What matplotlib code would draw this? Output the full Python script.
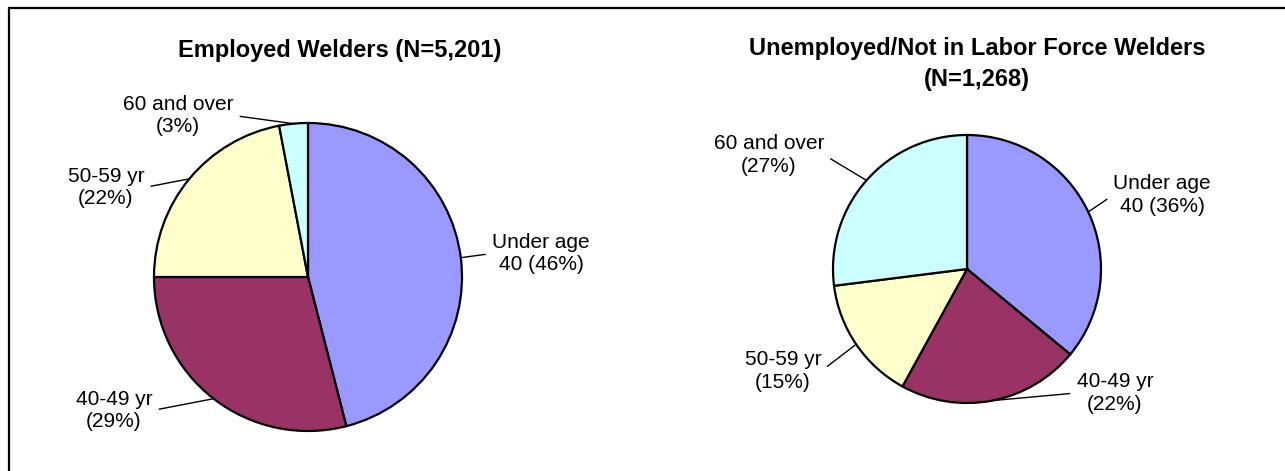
import matplotlib
matplotlib.use('Agg')
import matplotlib.pyplot as plt
import numpy as np
from matplotlib.patches import Rectangle

plt.rcParams['font.family'] = ['Liberation Sans', 'DejaVu Sans']

# data
groups = ['Under age\n40', '40-49 yr', '50-59 yr', '60 and over']
employed = [46, 29, 22, 3]
unemployed = [36, 22, 15, 27]
colors = ['#9999FF', '#993366', '#FFFFCC', '#CCFFFF']
titles = ['Employed Welders (N=5,201)',
          'Unemployed/Not in Labor Force Welders\n(N=1,268)']

W, H = 1285, 471

def pie_panel(fig, box, values, text_pos, sides):
    """box = (x0, y0, size) in pixels from the top-left corner"""
    x0, y0, size = box
    ax = fig.add_axes([x0 / W, (H - y0 - size) / H, size / W, size / H])
    wedges, _ = ax.pie(values, colors=colors, startangle=90, counterclock=False,
                       wedgeprops=dict(edgecolor='black', linewidth=1.6))
    ax.set_xlim(-1, 1)
    ax.set_ylim(-1, 1)
    ax.set_aspect('equal')

    for w, name, v, pos, side in zip(wedges, groups, values, text_pos, sides):
        ang = np.deg2rad((w.theta1 + w.theta2) / 2)
        if '\n' in name:
            label = name + ' (%d%%)' % v
        else:
            label = name + '\n(%d%%)' % v
        ax.annotate(label, xy=(np.cos(ang), np.sin(ang)), xytext=pos,
                    ha='center', va='center', fontsize=15, linespacing=1.25,
                    annotation_clip=False,
                    arrowprops=dict(arrowstyle='-', color='black', lw=1.0,
                                    relpos=(side, 0.5), shrinkA=3, shrinkB=0))
    return ax

fig = plt.figure(figsize=(W / 100, H / 100), dpi=100)

# outer frame (only top and left edges visible)
fig.patches.append(Rectangle((9 / W, -0.05), 1.2, (H - 7.5) / H + 0.05,
                             transform=fig.transFigure, fill=False,
                             edgecolor='black', linewidth=1.6))

pie_panel(fig, (154, 123, 308), employed,
          [(1.513, 0.153), (-1.26, -0.867), (-1.312, 0.581), (-0.844, 1.049)],
          [0, 1, 1, 1])
pie_panel(fig, (833, 135, 268), unemployed,
          [(1.455, 0.552), (1.104, -0.925), (-1.373, -0.761), (-1.478, 0.851)],
          [0, 0, 1, 1])

fig.text(340 / W, 1 - 50 / H, titles[0], ha='center', va='center',
         fontsize=17, fontweight='bold')
fig.text(977 / W, 1 - 64 / H, titles[1], ha='center', va='center',
         fontsize=17, fontweight='bold', linespacing=1.4)

fig.savefig('out.png', dpi=100)
